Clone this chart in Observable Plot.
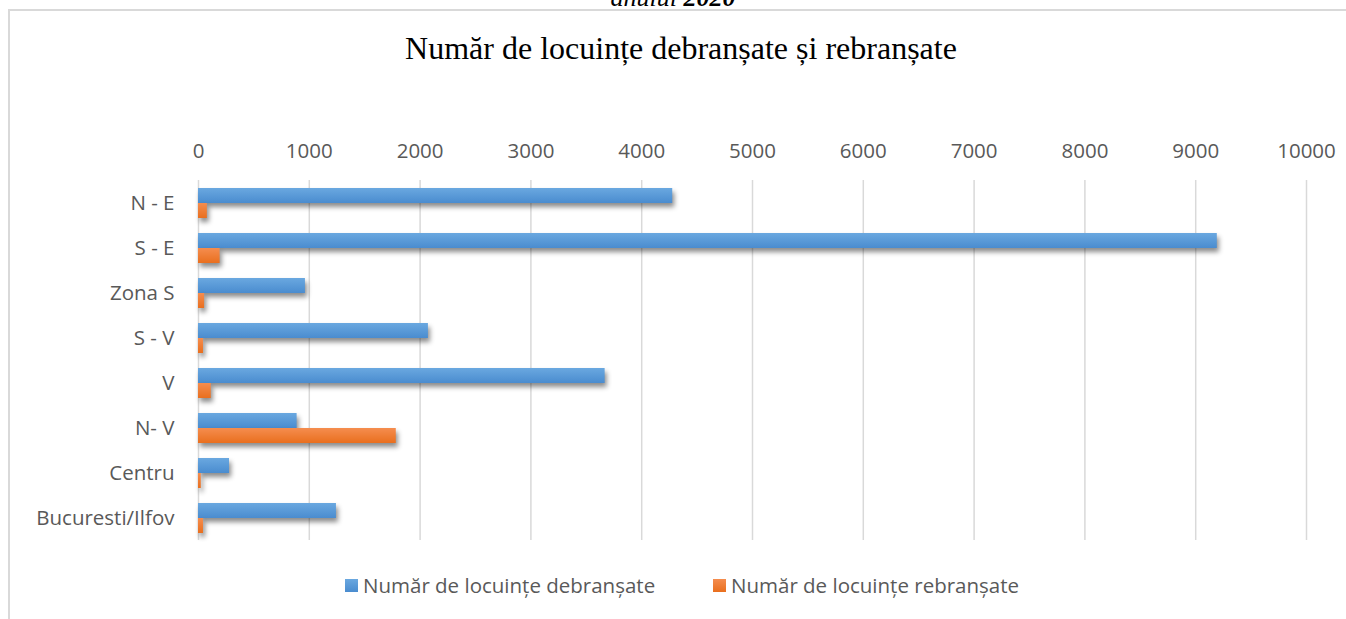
<!DOCTYPE html>
<html>
<head>
<meta charset="utf-8">
<script src="https://cdn.jsdelivr.net/npm/d3@7"></script>
<script src="https://cdn.jsdelivr.net/npm/@observablehq/plot@0.6"></script>
<style>
  html, body { margin: 0; padding: 0; background: #fff; overflow: hidden; }
  #page { position: relative; width: 1346px; height: 619px; overflow: hidden; background: #fff; }
  #above { position: absolute; left: 0; width: 1346px; top: -17px; text-align: center;
           font-family: "Liberation Serif", "Times New Roman", serif; font-size: 26px; font-style: italic; color: #000; }
  #frame { position: absolute; left: 8px; top: 9px; width: 1400px; height: 700px; border: 2px solid #d9d9d9; box-sizing: border-box; }
  #title { position: absolute; left: 0; width: 1362px; top: 30px; text-align: center;
           font-family: "Liberation Serif", "Times New Roman", serif; font-size: 32px; color: #000; }
  #chart { position: absolute; left: 0; top: 120px; }
  #legend { position: absolute; top: 572px; left: 0; width: 1346px; height: 26px;
            font-family: "Open Sans", sans-serif; font-size: 20.5px; color: #595959; }
  .item { position: absolute; top: 0; display: flex; align-items: center; height: 26px; white-space: nowrap; }
  .sw { width: 13px; height: 13px; margin-right: 5px; }
  #chart svg text { fill: #595959; }
  #chart g[aria-label="bar"] rect { filter: drop-shadow(2px 4px 2.5px rgba(0,0,0,0.45)); }
</style>
</head>
<body>
<div id="page">
  <div id="above">anului <b>2020</b></div>
  <div id="frame"></div>
  <div id="title">Număr de locuințe debranșate și rebranșate</div>
  <div id="chart"></div>
  <div id="legend"></div>
</div>
<script>
const categories = ["N - E", "S - E", "Zona S", "S - V", "V", "N- V", "Centru", "Bucuresti/Ilfov"];
const debransate = [4280, 9195, 965, 2075, 3670, 890, 280, 1245];
const rebransate = [80, 195, 55, 45, 115, 1785, 25, 45];
const seriesNames = ["Număr de locuințe debranșate", "Număr de locuințe rebranșate"];
const seriesColors = ["#5b9bd5", "#ed7d31"];
const xTicks = [0, 1000, 2000, 3000, 4000, 5000, 6000, 7000, 8000, 9000, 10000];

const rows = categories.flatMap((c, i) => [
  {category: c, series: seriesNames[0], value: debransate[i]},
  {category: c, series: seriesNames[1], value: rebransate[i]}
]);

const chart = Plot.plot({
  width: 1346,
  height: 430,
  marginLeft: 198,
  marginRight: 40,
  marginTop: 60,
  marginBottom: 10,
  style: {fontFamily: "'Open Sans', sans-serif", fontSize: "20.5px", background: "transparent"},
  facet: {data: rows, y: "category"},
  x: {domain: [0, 10000], axis: "top", ticks: xTicks, tickSize: 0, tickPadding: 23, label: null, tickFormat: d => String(d)},
  y: {domain: seriesNames, axis: null, paddingInner: 0, paddingOuter: 0.5},
  fy: {domain: categories, axis: "left", tickSize: 0, tickPadding: 24, label: null, padding: 0},
  marks: [
    Plot.ruleX(xTicks, {stroke: "#d9d9d9", strokeWidth: 1.5}),
    Plot.barX(rows, {filter: d => d.series === seriesNames[0], x: "value", y: "series", fill: seriesColors[0]}),
    Plot.barX(rows, {filter: d => d.series === seriesNames[1], x: "value", y: "series", fill: seriesColors[1]})
  ]
});
document.getElementById("chart").appendChild(chart);

// gradients for the bars
const svg = d3.select(chart);
const defs = svg.insert("defs", ":first-child");
const grads = [["gBlue", "#6aa8e0", "#4a8ccf"], ["gOrange", "#f58d4f", "#e96f1e"]];
grads.forEach(([id, c1, c2]) => {
  const g = defs.append("linearGradient").attr("id", id).attr("x1", 0).attr("y1", 0).attr("x2", 0).attr("y2", 1);
  g.append("stop").attr("offset", "0%").attr("stop-color", c1);
  g.append("stop").attr("offset", "100%").attr("stop-color", c2);
});
svg.selectAll('[fill="' + seriesColors[0] + '"]').attr("fill", "url(#gBlue)");
svg.selectAll('[fill="' + seriesColors[1] + '"]').attr("fill", "url(#gOrange)");

// legend
const legend = d3.select("#legend");
const lefts = [345, 713];
seriesNames.forEach((name, i) => {
  const it = legend.append("div").attr("class", "item").style("left", lefts[i] + "px");
  it.append("div").attr("class", "sw").style("background", `linear-gradient(${grads[i][1]}, ${grads[i][2]})`);
  it.append("span").text(name);
});
</script>
</body>
</html>
